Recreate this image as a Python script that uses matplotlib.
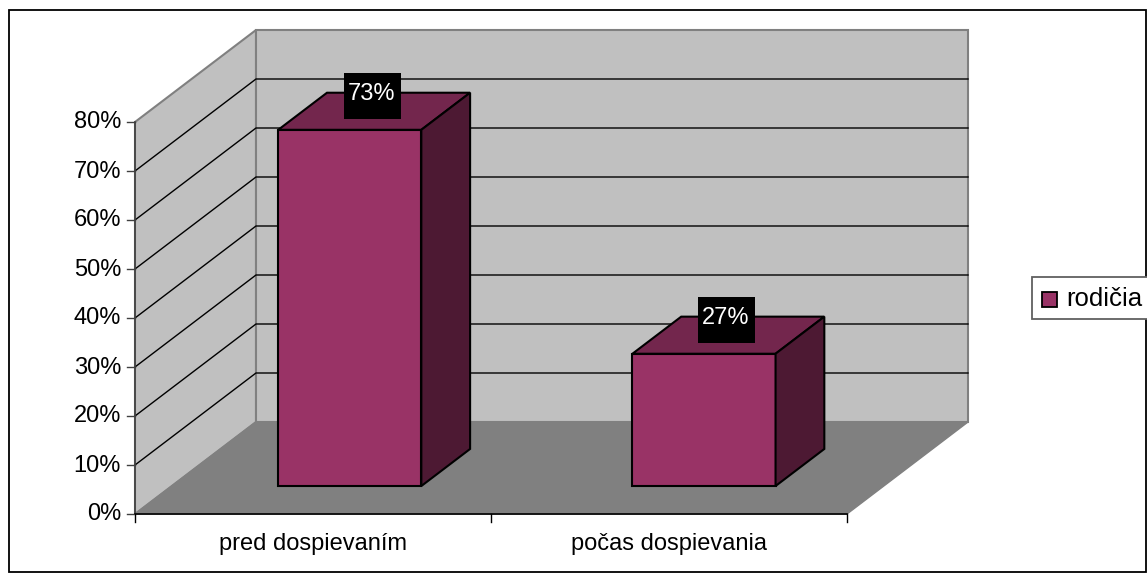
import matplotlib
matplotlib.use("Agg")
import matplotlib.pyplot as plt
from matplotlib.patches import Polygon, Rectangle

categories = ["pred dospievaním", "počas dospievania"]
values = [72.7, 27.0]
value_labels = ["73%", "27%"]
y_ticks = [0, 10, 20, 30, 40, 50, 60, 70, 80]
y_tick_labels = ["0%", "10%", "20%", "30%", "40%", "50%", "60%", "70%", "80%"]
series_name = "rodičia"

plt.rcParams['font.family'] = ['Liberation Sans', 'DejaVu Sans']
FS = 17

# the axes are in image pixels, project() does the oblique 3D view
fig = plt.figure(figsize=(11.47, 5.76), dpi=100)
ax = fig.add_axes([0, 0, 1, 1])
ax.set_xlim(0, 1147)
ax.set_ylim(576, 0)
ax.axis("off")


def project(cat, val, depth):
    return (135 + 356 * cat + 121 * depth, 514 - 4.9 * val - 92 * depth)


def face(points, color, edge, lw=1.0, zorder=2):
    ax.add_patch(Polygon([project(*p) for p in points], closed=True, facecolor=color,
                         edgecolor=edge, linewidth=lw, zorder=zorder, joinstyle="miter"))


# Cadre
ax.add_patch(Rectangle((8.5, 9.5), 1137.5, 562, facecolor="white", edgecolor="black", linewidth=1.3))

# Murs et sol
n_cat = len(categories)
top = y_ticks[-1]
face([(0, 0, 0), (0, top, 0), (0, top, 1), (0, 0, 1)], "#C0C0C0", "#808080", 1.5)
face([(0, 0, 1), (0, top, 1), (n_cat, top, 1), (n_cat, 0, 1)], "#C0C0C0", "#808080", 1.5)
face([(0, 0, 0), (0, 0, 1), (n_cat, 0, 1), (n_cat, 0, 0)], "#808080", "#808080", 1)

# Grille
for t in y_ticks[1:-1]:
    xs, ys = zip(project(0, t, 0), project(0, t, 1), project(n_cat, t, 1))
    ax.plot(xs, ys, color="black", linewidth=1, zorder=3)

# Axes et graduations
x0, y0 = project(0, 0, 0)
x1, y1 = project(0, top, 0)
ax.plot([x0, x1], [y0, y1], color="#404040", linewidth=1.2, zorder=4)
x2, _ = project(n_cat, 0, 0)
ax.plot([x0, x2], [y0, y0], color="black", linewidth=1.2, zorder=4)
for t, lab in zip(y_ticks, y_tick_labels):
    x, y = project(0, t, 0)
    ax.plot([x - 8, x], [y, y], color="#404040", linewidth=1, zorder=4)
    ax.text(x - 14, y + 0.5, lab, ha="right", va="center", fontsize=FS, color="black")
for i in range(n_cat + 1):
    x, y = project(i, 0, 0)
    ax.plot([x, x], [y, y + 8], color="black", linewidth=1, zorder=4)
for i, cat in enumerate(categories):
    x, y = project(i + 0.5, 0, 0)
    ax.text(x, y + 30, cat, ha="center", va="center", fontsize=FS, color="black")

# Barres
d0, d1 = 0.304, 0.707
w = 0.201
centres = [0.5, 1.495]
for c, v, lab in zip(centres, values, value_labels):
    l, r = c - w, c + w
    face([(l, 0, d0), (l, v, d0), (r, v, d0), (r, 0, d0)], "#993366", "black", 1.5, 5)
    face([(l, v, d0), (l, v, d1), (r, v, d1), (r, v, d0)], "#73264D", "black", 1.5, 5)
    face([(r, 0, d0), (r, v, d0), (r, v, d1), (r, 0, d1)], "#4D1933", "black", 1.5, 5)
    x, y = project(c, v, (d0 + d1) / 2)
    x, y = x - 2, y - 15
    ax.add_patch(Rectangle((x - 28.5, y - 23), 57, 46, facecolor="black", edgecolor="none", zorder=6))
    ax.text(x - 1, y - 2.5, lab, ha="center", va="center", fontsize=FS, color="white", zorder=7)

# Légende
ax.add_patch(Rectangle((1031.5, 276.5), 120, 42, facecolor="white", edgecolor="#606060", linewidth=1.3, zorder=2))
ax.add_patch(Rectangle((1041.5, 291.5), 15, 15, facecolor="#993366", edgecolor="black", linewidth=1.3, zorder=3))
ax.text(1066, 299, series_name, ha="left", va="center", fontsize=18.5, color="black", zorder=3)

fig.savefig("out.png", dpi=100)
